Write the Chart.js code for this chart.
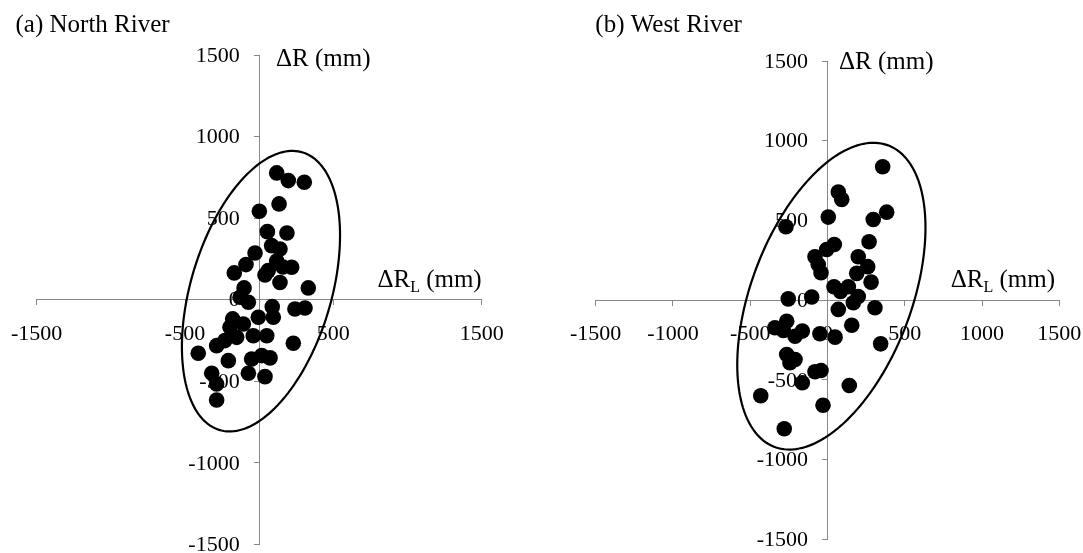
<!DOCTYPE html>
<html>
<head>
<meta charset="utf-8">
<script src="https://cdn.jsdelivr.net/npm/chart.js@4.4.1/dist/chart.umd.min.js"></script>
<style>
  html, body { margin: 0; padding: 0; background: #fff; overflow: hidden; }
  canvas { position: absolute; top: 0; }
  #north { left: 0; }
  #west { left: 541px; }
</style>
</head>
<body>
<canvas id="north" width="541" height="553"></canvas>
<canvas id="west" width="542" height="553"></canvas>
<script>
// --- DATA ---
// (a) North River: change in runoff from land-use (ΔR_L) vs total change in runoff (ΔR), mm
const northX = [118, 196, 304, 134, 1, 55, 187, 84, 140, -28, -89, -168, 219, 118, 61, 160, 39, 140,
    -102, 331, -129, -73, 88, 241, 309, -6, 95, -179, -107, -197, -40, 51, -152, -231, 230, -287,
    -411, -208, -51, 17, 73, -320, -73, 39, -287, -287];
const northY = [777, 730, 720, 587, 542, 417, 409, 331, 311, 286, 215, 164, 199, 237, 178, 200, 151, 105,
    72, 72, 15, -16, -43, -57, -51, -108, -108, -118, -149, -169, -221, -221, -231, -251, -267, -282,
    -329, -374, -364, -343, -357, -451, -451, -472, -517, -615];

// (b) West River
const westX = [357, 70, 92, 383, 296, 5, -269, 269, 44, -5, -81, -60, -42, 199, 260, 189, 282, 42, 135,
    -254, -102, 199, 84, 70, 167, 307, 157, -340, -264, -286, -210, -163, -49, 49, 344, -264, -210,
    -243, -81, -42, -163, 141, -432, -29, -280];
const westY = [837, 678, 632, 552, 506, 521, 460, 366, 349, 318, 272, 224, 172, 272, 210, 168, 113, 84, 84,
    8, 20, 23, 55, -58, -16, -48, -157, -173, -132, -190, -226, -194, -211, -232, -274, -341, -372,
    -393, -449, -441, -518, -535, -600, -659, -807];

// ellipses: centre x, centre y, half-width, half-height, correlation
const northEllipse = [12, 52, 533, 860, 0.397];
const westEllipse = [25, 25, 609, 962, 0.447];

// tick labels
const yTicks = [-1500, -1000, -500, 0, 500, 1000, 1500];
const northXTicks = [-1500, -500, 500, 1500];
const westXTicks = [-1500, -1000, -500, 0, 500, 1000, 1500];

const FONT = "'Liberation Serif', 'Times New Roman', serif";
const AXIS_GREY = '#878787';

// --- PLUGINS ---
// y tick labels sit left of the centred axis (Chart.js puts them flush on it)
const yLabelsPlugin = {
    id: 'yLabels',
    beforeDatasetsDraw(chart) {
        const ys = chart.scales.y;
        const axisX = chart.scales.x.getPixelForValue(0);
        const ctx = chart.ctx;
        ctx.save();
        ctx.fillStyle = '#000';
        ctx.font = `22px ${FONT}`;
        ctx.textAlign = 'right';
        ctx.textBaseline = 'middle';
        ys.ticks.forEach(t => {
            ctx.fillText(String(t.value), axisX - 19.5, ys.getPixelForValue(t.value) + 1);
        });
        ctx.restore();
    }
};

// draws the ellipse through the chart's own scales
const ellipsePlugin = {
    id: 'ellipse',
    afterDatasetsDraw(chart, args, opts) {
        const [cx, cy, sx, sy, rho] = opts.params;
        const xs = chart.scales.x, ys = chart.scales.y;
        const ctx = chart.ctx;
        const k = Math.sqrt(1 - rho * rho);
        ctx.save();
        ctx.beginPath();
        for (let i = 0; i <= 180; i++) {
            const t = i / 180 * Math.PI * 2;
            const vx = cx + sx * Math.cos(t);
            const vy = cy + sy * (rho * Math.cos(t) + k * Math.sin(t));
            const px = xs.getPixelForValue(vx), py = ys.getPixelForValue(vy);
            if (i === 0) ctx.moveTo(px, py); else ctx.lineTo(px, py);
        }
        ctx.closePath();
        ctx.lineWidth = 2.2;
        ctx.strokeStyle = '#000';
        ctx.stroke();
        ctx.restore();
    }
};

// panel title and axis titles
const labelsPlugin = {
    id: 'labels',
    afterDraw(chart, args, opts) {
        const ctx = chart.ctx;
        ctx.save();
        ctx.fillStyle = '#000';
        ctx.textBaseline = 'alphabetic';
        ctx.textAlign = 'left';
        ctx.font = `25px ${FONT}`;
        ctx.fillText(opts.title, opts.titlePos[0], opts.titlePos[1]);
        ctx.fillText('\u0394R (mm)', opts.yLabelPos[0], opts.yLabelPos[1]);

        // ΔR_L (mm), right aligned
        const big = `25px ${FONT}`, small = `16px ${FONT}`;
        ctx.font = big;
        const w1 = ctx.measureText('\u0394R').width;
        const w3 = ctx.measureText(' (mm)').width;
        ctx.font = small;
        const w2 = ctx.measureText('L').width;
        let x = opts.xLabelPos[0] - (w1 + w2 + w3);
        const y = opts.xLabelPos[1];
        ctx.font = big;
        ctx.fillText('\u0394R', x, y);
        x += w1;
        ctx.font = small;
        ctx.fillText('L', x, y + 5);
        x += w2;
        ctx.font = big;
        ctx.fillText(' (mm)', x, y);
        ctx.restore();
    }
};

// --- CHART FACTORY ---
function makeChart(canvasId, xs, ys, xTicks, ellipse, layout) {
    const points = xs.map((v, i) => ({ x: v, y: ys[i] }));
    const noPad = s => { s.paddingTop = 0; s.paddingBottom = 0; s.paddingLeft = 0; s.paddingRight = 0; };
    return new Chart(document.getElementById(canvasId), {
        type: 'scatter',
        data: {
            datasets: [{
                data: points,
                backgroundColor: '#000',
                borderWidth: 0,
                pointRadius: 7.8,
                pointHoverRadius: 7.8
            }]
        },
        options: {
            responsive: false,
            animation: false,
            events: [],
            layout: { padding: layout.padding },
            plugins: {
                legend: { display: false },
                tooltip: { enabled: false },
                ellipse: { params: ellipse },
                labels: layout.labels
            },
            scales: {
                x: {
                    type: 'linear',
                    min: -1500, max: 1500,
                    position: { y: 0 },
                    afterBuildTicks: s => { s.ticks = xTicks.map(v => ({ value: v })); },
                    afterFit: noPad,
                    grid: { drawOnChartArea: false, drawTicks: true, tickLength: 5, color: AXIS_GREY, lineWidth: 1 },
                    border: { display: true, color: AXIS_GREY, width: 1 },
                    ticks: {
                        autoSkip: false, maxRotation: 0, padding: 16,
                        color: '#000', font: { family: FONT, size: 22 },
                        callback: v => String(v)
                    }
                },
                y: {
                    type: 'linear',
                    min: -1500, max: 1500,
                    position: { x: 0 },
                    afterBuildTicks: s => { s.ticks = yTicks.map(v => ({ value: v })); },
                    afterFit: noPad,
                    grid: { drawOnChartArea: false, drawTicks: true, tickLength: 5, color: AXIS_GREY, lineWidth: 1 },
                    border: { display: true, color: AXIS_GREY, width: 1 },
                    ticks: { display: false, autoSkip: false }
                }
            }
        },
        plugins: [yLabelsPlugin, ellipsePlugin, labelsPlugin]
    });
}

makeChart('north', northX, northY, northXTicks, northEllipse, {
    padding: { left: 36.7, right: 59.3, top: 55, bottom: 8.7 },
    labels: { title: '(a) North River', titlePos: [15.5, 32], yLabelPos: [276, 66], xLabelPos: [481.7, 287] }
});

makeChart('west', westX, westY, westXTicks, westEllipse, {
    padding: { left: 54.7, right: 23.7, top: 61, bottom: 13.7 },
    labels: { title: '(b) West River', titlePos: [54.3, 32], yLabelPos: [298, 69], xLabelPos: [514, 287] }
});
</script>
</body>
</html>
